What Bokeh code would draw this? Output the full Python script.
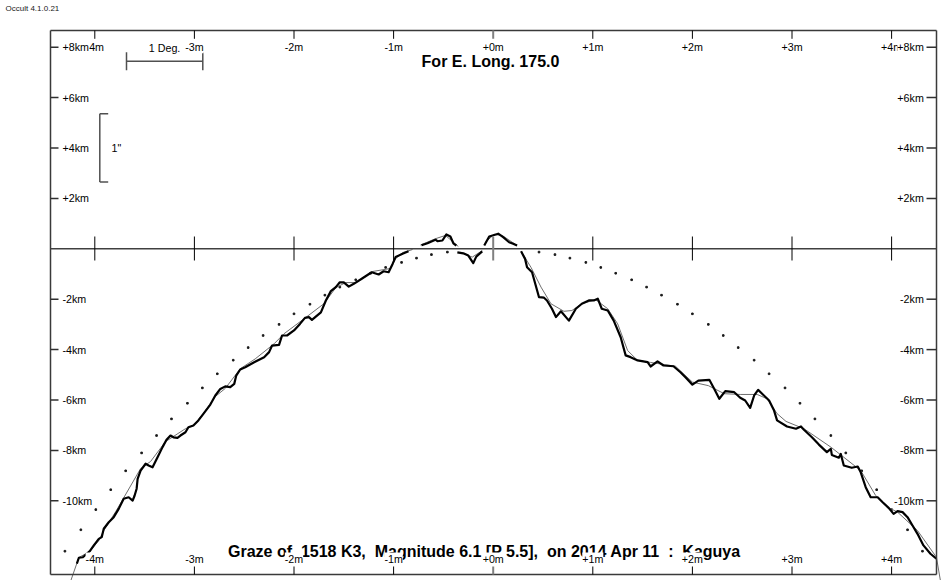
from bokeh.plotting import figure
from bokeh.models import Range1d
from bokeh.core.properties import value
from bokeh.embed import file_html
from bokeh.resources import INLINE

NaN = float("nan")
SP = "\u00a0"

# ---------------- data ----------------
minute_ticks = [-4, -3, -2, -1, 0, 1, 2, 3, 4]
minute_labels = ["-4m", "-3m", "-2m", "-1m", "+0m", "+1m", "+2m", "+3m", "+4m"]
km_ticks = [8, 6, 4, 2, -2, -4, -6, -8, -10]
km_labels = ["+8km", "+6km", "+4km", "+2km", "-2km", "-4km", "-6km", "-8km", "-10km"]

title_top = "For E. Long. 175.0"
title_bottom = ("Graze of " + SP + "1518 K3, " + SP + "Magnitude 6.1 [P 5.5], " + SP
                + "on 2014 Apr 11 " + SP + ": " + SP + "Kaguya")
program_label = "Occult 4.1.0.21"
deg_scale_label = "1 Deg."
deg_scale_min = 0.766
arcsec_scale_label = '1"'
arcsec_scale_km = 2.71

# observed limb profile (minutes, km); NaN = gap
profile_x = [
    -4.18, -4.16, -4.12, -4.05, -4.01, -3.96, -3.93, -3.91, -3.86, -3.81,
    -3.76, -3.71, -3.66, -3.62, -3.60, -3.58, -3.57, -3.54, -3.49, -3.46,
    -3.42, -3.37, -3.32, -3.28, -3.24, -3.21, -3.17, -3.14, -3.09, -3.06,
    -3.01, -2.96, -2.91, -2.84, -2.79, -2.74, -2.69, -2.64, -2.60, -2.58,
    -2.54, -2.49, -2.40, -2.30, -2.25, -2.22, -2.15, -2.12, -2.07, -2.00,
    -1.94, -1.89, -1.85, -1.82, -1.73, -1.68, -1.63, -1.58, -1.54, -1.50,
    -1.45, -1.40, -1.32, -1.22, -1.15, -1.10, -1.05, -1.01, -0.98, -0.91,
    -0.85, NaN,
    -0.72, -0.66, -0.58, -0.56, -0.51, -0.47, -0.43, -0.40, -0.37, NaN,
    -0.36, -0.30, -0.25, -0.20, -0.17, -0.11, NaN,
    -0.09, -0.04, 0.05, 0.10, 0.16, 0.20, 0.24, NaN,
    0.28, 0.32, 0.34, 0.39, 0.46, 0.51, 0.54, 0.59, 0.63, 0.68,
    0.76, 0.83, 0.89, 0.96, 1.01, 1.05, 1.09, 1.15, 1.21, 1.28,
    1.33, 1.38, 1.45, 1.55, 1.58, 1.65, 1.71, 1.81, 1.88, 1.93,
    2.00, 2.06, 2.17, 2.22, 2.27, 2.33, 2.42, 2.48, 2.53, 2.58,
    2.62, 2.66, 2.70, 2.77, 2.82, 2.85, 2.95, 3.04, 3.09, 3.12,
    3.20, 3.27, 3.35, 3.39, 3.40, 3.47, 3.49, 3.52, 3.60, 3.66,
    3.69, 3.74, 3.79, 3.86, 3.91, 3.97, 4.02, 4.06, 4.11, 4.16,
    4.21, 4.26, 4.32, 4.39, 4.45,
]
profile_y = [
    -12.49, -12.26, -12.24, -12.00, -11.77, -11.51, -11.44, -11.11, -10.85, -10.65,
    -10.32, -9.92, -9.86, -9.99, -9.79, -9.52, -9.13, -8.80, -8.53, -8.60,
    -8.67, -8.27, -7.87, -7.58, -7.41, -7.48, -7.50, -7.41, -7.28, -7.08,
    -7.01, -6.81, -6.55, -6.18, -5.82, -5.56, -5.46, -5.49, -5.36, -5.03,
    -4.79, -4.70, -4.50, -4.30, -4.10, -3.84, -3.81, -3.44, -3.44, -3.24,
    -2.98, -2.74, -2.71, -2.82, -2.52, -2.05, -1.68, -1.52, -1.33, -1.33,
    -1.50, -1.39, -1.19, -0.93, -1.02, -0.89, -0.93, -0.60, -0.33, -0.20,
    -0.10, NaN,
    0.14, 0.22, 0.36, 0.30, 0.33, 0.57, 0.49, 0.22, 0.13, NaN,
    -0.14, -0.18, -0.27, -0.57, -0.31, -0.10, NaN,
    0.13, 0.49, 0.60, 0.46, 0.26, 0.20, 0.13, NaN,
    -0.10, -0.40, -0.73, -0.93, -1.92, -1.94, -2.05, -2.38, -2.71, -2.48,
    -2.85, -2.38, -2.18, -2.05, -2.05, -1.98, -2.38, -2.45, -2.85, -3.51,
    -4.23, -4.30, -4.43, -4.50, -4.67, -4.47, -4.63, -4.66, -4.90, -5.10,
    -5.39, -5.23, -5.20, -5.56, -5.95, -5.65, -5.69, -5.91, -6.02, -6.31,
    -5.82, -5.60, -5.75, -6.02, -6.42, -6.81, -7.05, -7.14, -7.05, -7.18,
    -7.48, -7.77, -8.07, -7.94, -8.18, -8.29, -8.14, -8.60, -8.69, -8.64,
    -8.87, -9.46, -9.86, -9.86, -10.06, -10.28, -10.52, -10.41, -10.45, -10.65,
    -10.98, -11.31, -11.77, -12.10, -12.30,
]

# smoothed limb profile (minutes, km)
smooth_x = [
    -4.24, -4.16, -4.05, -3.96, -3.91, -3.79, -3.54, -3.44, -3.29, -3.09,
    -3.01, -2.91, -2.79, -2.69, -2.54, -2.39, -2.20, -2.10, -1.90, -1.70,
    -1.58, -1.48, -1.38, -1.21, -1.03, -0.98, -0.91, -0.81, NaN,
    -0.73, -0.58, -0.48, -0.38, -0.35, NaN,
    -0.33, -0.21, -0.11, NaN,
    -0.08, 0.01, 0.09, 0.24, NaN,
    0.28, 0.38, 0.48, 0.58, 0.71, 0.79, 0.89, 1.03, 1.15, 1.25,
    1.35, 1.45, 1.58, 1.83, 2.00, 2.16, 2.32, 2.48, 2.65, 2.75,
    2.85, 2.94, 3.12, 3.39, 3.69, 3.84, 3.96, 4.06, 4.26, 4.45, 4.49,
]
smooth_y = [
    -13.16, -12.25, -12.01, -11.58, -11.18, -10.43, -8.72, -8.44, -7.65, -7.14,
    -7.01, -6.54, -5.86, -5.54, -4.76, -4.37, -3.77, -3.37, -2.78, -2.18,
    -1.54, -1.34, -1.34, -0.90, -0.78, -0.39, -0.15, -0.03, NaN,
    0.15, 0.40, 0.53, 0.20, 0.09, NaN,
    -0.14, -0.33, -0.07, NaN,
    0.26, 0.57, 0.53, 0.13, NaN,
    -0.10, -0.74, -1.52, -2.18, -2.48, -2.45, -2.18, -2.02, -2.38, -2.98,
    -4.04, -4.43, -4.51, -4.66, -5.29, -5.43, -5.75, -5.78, -5.78, -5.95,
    -6.54, -6.85, -7.14, -7.87, -8.80, -9.79, -10.25, -10.45, -11.18, -12.24, -13.16,
]

# mean limb (dotted)
limb_x = [
    -4.30, -4.14, -3.99, -3.84, -3.69, -3.53, -3.38, -3.23, -3.07, -2.92,
    -2.77, -2.61, -2.46, -2.31, -2.15, -2.00, -1.84, -1.69, -1.54, -1.38,
    -1.23, -1.08, -0.92, -0.77, -0.62, -0.46,
    0.46, 0.62, 0.77, 0.93, 1.08, 1.23, 1.39, 1.54, 1.69, 1.85,
    2.00, 2.16, 2.31, 2.46, 2.62, 2.77, 2.93, 3.08, 3.23, 3.39,
    3.54, 3.70, 3.85, 4.00, 4.16, 4.31,
]
limb_y = [
    -12.00, -11.15, -10.35, -9.56, -8.81, -8.10, -7.41, -6.75, -6.13, -5.52,
    -4.96, -4.42, -3.92, -3.44, -3.00, -2.58, -2.20, -1.84, -1.52, -1.23,
    -0.97, -0.74, -0.54, -0.37, -0.23, -0.13,
    -0.13, -0.23, -0.37, -0.54, -0.74, -0.97, -1.23, -1.52, -1.84, -2.20,
    -2.58, -3.00, -3.44, -3.92, -4.42, -4.96, -5.52, -6.13, -6.75, -7.41,
    -8.10, -8.81, -9.56, -10.35, -11.15, -12.00,
]

# ---------------- layout ----------------
PX_MIN = 99.6
PX_KM = 25.2
W, H = 950, 580
ORIGIN_X, ORIGIN_Y = 492.7, 248.3
x_lo = -ORIGIN_X / PX_MIN
x_hi = (W - ORIGIN_X) / PX_MIN
y_hi = ORIGIN_Y / PX_KM
y_lo = -(H - ORIGIN_Y) / PX_KM


def cx(px):
    return x_lo + px / PX_MIN


def cy(py):
    return y_hi - py / PX_KM


def dxp(n):
    return n / PX_MIN


def dyp(n):
    return n / PX_KM


fl, fr, ft, fb = cx(50), cx(936), cy(30), cy(574)

FONT = value("Liberation Sans")
LBL = "10.7px"

p = figure(width=W, height=H, x_range=Range1d(x_lo, x_hi), y_range=Range1d(y_lo, y_hi),
           output_backend="svg", toolbar_location=None, x_axis_type=None, y_axis_type=None,
           min_border=0, outline_line_color=None,
           background_fill_color="white", border_fill_color="white")

# curves
p.scatter(limb_x, limb_y, marker="square", size=1.6, color="#1a1a1a")
p.line(smooth_x, smooth_y, line_color="#6e6e6e", line_width=1)
p.line(profile_x, profile_y, line_color="black", line_width=2.2, line_join="round")

# frame
frame_col = "#3a3a3a"
p.segment(x0=[fl, fr, fl, fl], y0=[fb, fb, ft, fb], x1=[fl, fr, fr, fr], y1=[ft, ft, ft, fb],
          line_color=frame_col, line_width=1.5)
# zero line
p.segment(x0=[fl], y0=[0], x1=[fr], y1=[0], line_color="#404040", line_width=1.5)

tick_cols = ["#808080" if m == 0 else "black" for m in minute_ticks]
tick_w = [2 if m == 0 else 1 for m in minute_ticks]
n = len(minute_ticks)
# top ticks
p.segment(x0=minute_ticks, y0=[ft] * n, x1=minute_ticks, y1=[ft - dyp(8.3)] * n,
          line_color=tick_cols, line_width=tick_w)
# bottom ticks
p.segment(x0=minute_ticks, y0=[fb] * n, x1=minute_ticks, y1=[fb + dyp(8)] * n,
          line_color=tick_cols, line_width=tick_w)
# zero-line ticks
p.segment(x0=minute_ticks, y0=[dyp(12.3)] * n, x1=minute_ticks, y1=[-dyp(11.7)] * n,
          line_color=tick_cols, line_width=tick_w)

k = len(km_ticks)
p.segment(x0=[fl] * k, y0=km_ticks, x1=[fl + dxp(8)] * k, y1=km_ticks,
          line_color="#303030", line_width=1.5)
p.segment(x0=[fr - dxp(10)] * k, y0=km_ticks, x1=[fr] * k, y1=km_ticks,
          line_color="#303030", line_width=1.5)

# scale bars
bar_col = "#505050"
dx0 = cx(126)
dy0 = cy(60.7)
p.segment(x0=[dx0, dx0, dx0 + deg_scale_min], y0=[dy0, dy0 - dyp(9), dy0 - dyp(9)],
          x1=[dx0 + deg_scale_min, dx0, dx0 + deg_scale_min], y1=[dy0, dy0 + dyp(9), dy0 + dyp(9)],
          line_color=bar_col, line_width=1.5)
p.text(x=[cx(148.3)], y=[cy(47.3)], text=[deg_scale_label], text_align="left",
       text_baseline="middle", text_font=FONT, text_font_size=LBL, text_color="black")

ax0 = cx(99.3)
ay0 = cy(113.3)
ay1 = ay0 - arcsec_scale_km
p.segment(x0=[ax0, ax0, ax0], y0=[ay0, ay0, ay1], x1=[ax0, ax0 + dxp(8.4), ax0 + dxp(8.4)],
          y1=[ay1, ay0, ay1], line_color=bar_col, line_width=1.5)
p.text(x=[cx(111)], y=[cy(147.3)], text=[arcsec_scale_label], text_align="left",
       text_baseline="middle", text_font=FONT, text_font_size=LBL, text_color="black")

# titles
p.text(x=[cx(490)], y=[cy(60.7)], text=[title_top], text_align="center", text_baseline="middle",
       text_font=FONT, text_font_size="16px", text_font_style="bold", text_color="black")
p.text(x=[cx(484)], y=[cy(550.7)], text=[title_bottom], text_align="center", text_baseline="middle",
       text_font=FONT, text_font_size="16px", text_font_style="bold", text_color="black")
p.text(x=[cx(5)], y=[cy(8.3)], text=[program_label], text_align="left", text_baseline="middle",
       text_font=FONT, text_font_size="8px", text_color="#202020")

# tick labels (drawn last, on white boxes, as in the original)
p.text(x=minute_ticks, y=[cy(46.7)] * n, text=minute_labels, text_align="center",
       text_baseline="middle", text_font=FONT, text_font_size=LBL, text_color="black",
       background_fill_color="white")
p.text(x=minute_ticks, y=[cy(558)] * n, text=minute_labels, text_align="center",
       text_baseline="middle", text_font=FONT, text_font_size=LBL, text_color="black",
       background_fill_color="white")
p.text(x=[cx(62)] * k, y=km_ticks, text=km_labels, text_align="left",
       text_baseline="middle", text_font=FONT, text_font_size=LBL, text_color="black",
       background_fill_color="white")
p.text(x=[cx(923.3)] * k, y=km_ticks, text=km_labels, text_align="right",
       text_baseline="middle", text_font=FONT, text_font_size=LBL, text_color="black",
       background_fill_color="white")

open("out.html", "w").write(file_html(p, INLINE))
